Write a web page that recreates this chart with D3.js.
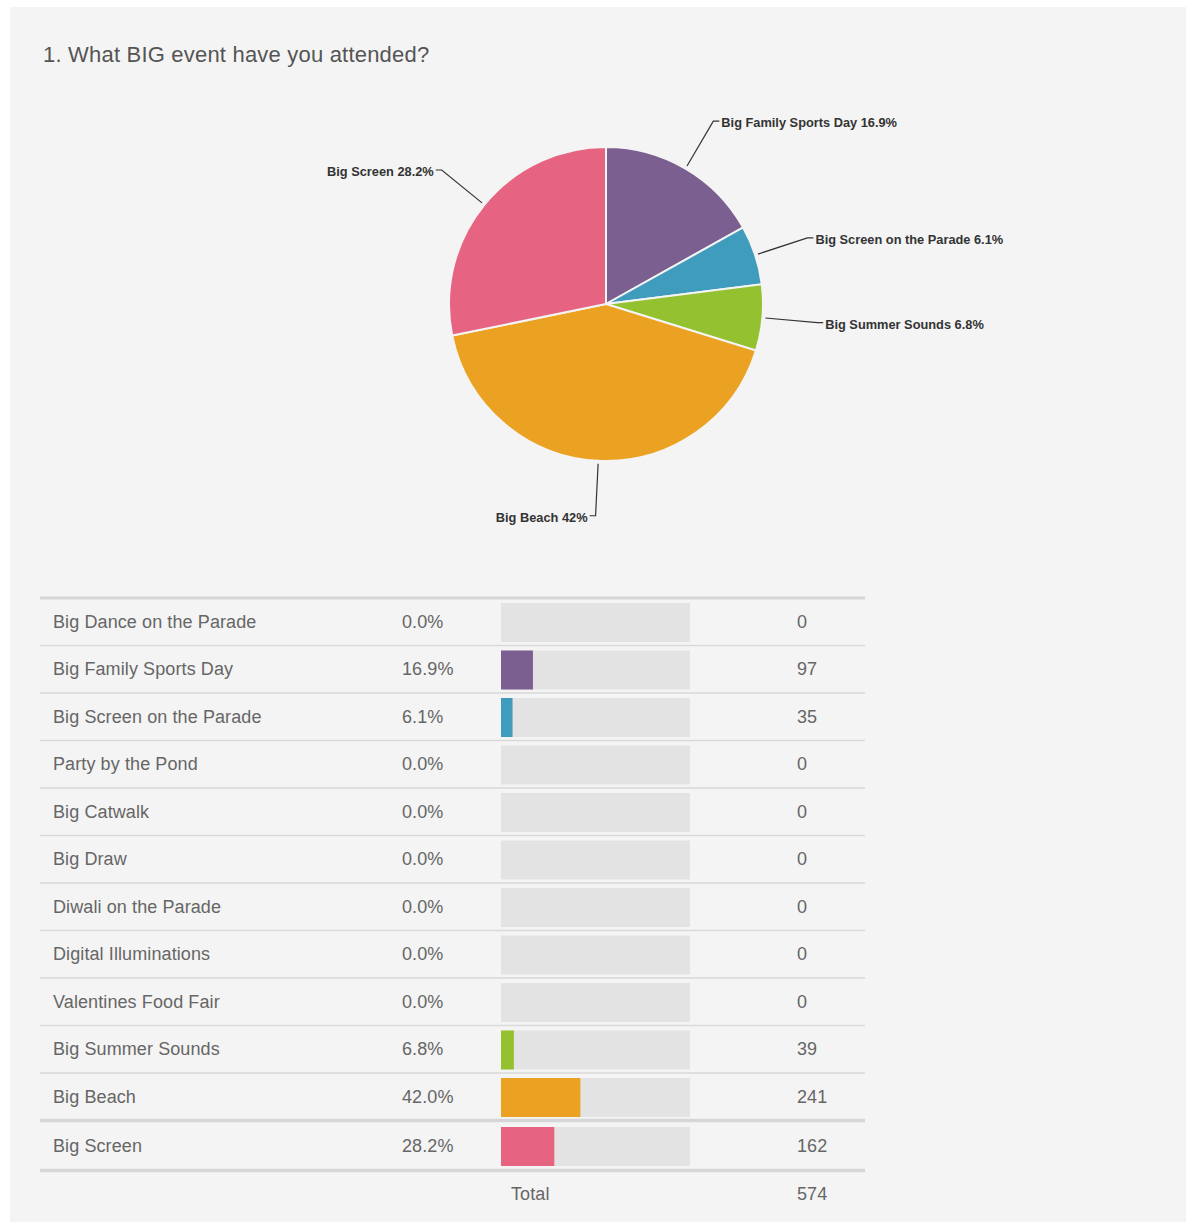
<!DOCTYPE html>
<meta charset="utf-8">
<body style="margin:0;background:#fff">
<style>
  svg { font-family: "Liberation Sans", Arial, sans-serif; }
  .title { font-size: 22px; fill: #555; letter-spacing: 0.2px; }
  .slice-label { font-size: 12.8px; fill: #333; font-weight: bold; }
  .row-text { font-size: 18px; fill: #666; letter-spacing: 0.1px; }
</style>
<svg width="1187" height="1222"></svg>
<script src="https://d3js.org/d3.v7.min.js"></script>
<script>

// answer options, in the order the table lists them
var events = ["Big Dance on the Parade", "Big Family Sports Day", "Big Screen on the Parade",
              "Party by the Pond", "Big Catwalk", "Big Draw", "Diwali on the Parade",
              "Digital Illuminations", "Valentines Food Fair", "Big Summer Sounds",
              "Big Beach", "Big Screen"];
var counts = [0, 97, 35, 0, 0, 0, 0, 0, 0, 39, 241, 162];
var percents = [0.0, 16.9, 6.1, 0.0, 0.0, 0.0, 0.0, 0.0, 0.0, 6.8, 42.0, 28.2];
var pieLabels = ["", "16.9%", "6.1%", "", "", "", "", "", "", "6.8%", "42%", "28.2%"];
var colors = ["#999", "#7b5f91", "#3f9cbc", "#999", "#999", "#999", "#999", "#999", "#999",
              "#94c12f", "#eba222", "#e66482"];
var total = 574;

var svg = d3.select("svg");

svg.append("rect")
   .attr("x", 10).attr("y", 7)
   .attr("width", 1176).attr("height", 1215)
   .attr("fill", "#f4f4f4");

svg.append("text")
   .attr("class", "title")
   .attr("x", 43).attr("y", 62)
   .text("1. What BIG event have you attended?");

// ---- pie ----
var rows = events.map(function(e, i) {
  return {name: e, count: counts[i], pct: percents[i], label: pieLabels[i], color: colors[i]};
});
var cx = 606, cy = 304, r = 157;

var pie = d3.pie().sort(null).value(function(d) { return d.count; });
var arcs = pie(rows.filter(function(d) { return d.count > 0; }));
var arc = d3.arc().innerRadius(0).outerRadius(r);

var pg = svg.append("g").attr("transform", "translate(" + cx + "," + cy + ")");

pg.selectAll("path")
  .data(arcs)
  .enter().append("path")
  .attr("d", arc)
  .attr("fill", function(d) { return d.data.color; })
  .attr("stroke", "#f4f4f4")
  .attr("stroke-width", 2);

function pt(a, rad) { return [Math.sin(a) * rad, -Math.cos(a) * rad]; }

arcs.forEach(function(d) {
  var mid = (d.startAngle + d.endAngle) / 2;
  var p1 = pt(mid, r + 3), p2 = pt(mid, 212);
  var right = Math.sin(mid) > 0;
  var dir = right ? 1 : -1;
  var p3 = [p2[0] + dir * 6, p2[1]];
  pg.append("path")
    .attr("d", d3.line()([p1, p2, p3]))
    .attr("fill", "none")
    .attr("stroke", "#333")
    .attr("stroke-width", 1.2);
  pg.append("text")
    .attr("class", "slice-label")
    .attr("x", p3[0] + dir * 2)
    .attr("y", p3[1] + 6)
    .attr("text-anchor", right ? "start" : "end")
    .text(d.data.name + " " + d.data.label);
});

// ---- table ----
var tx0 = 40, tx1 = 865, tableTop = 598, rowH = 47.5;
var barX = d3.scaleLinear().domain([0, 100]).range([501, 690]);

var tg = svg.append("g");
tg.append("line")
  .attr("x1", tx0).attr("x2", tx1).attr("y1", tableTop).attr("y2", tableTop)
  .attr("stroke", "#d6d6d6").attr("stroke-width", 3);

rows.forEach(function(d, i) {
  var last = i === events.length - 1;
  var y0 = tableTop + i * rowH + (last ? 1.5 : 0);
  var yc = y0 + rowH / 2;
  tg.append("text").attr("class", "row-text")
    .attr("x", 53).attr("y", yc + 6).text(d.name);
  tg.append("text").attr("class", "row-text")
    .attr("x", 402).attr("y", yc + 6).text(d.pct.toFixed(1) + "%");
  tg.append("rect")
    .attr("x", barX(0)).attr("y", y0 + 5)
    .attr("width", barX(100) - barX(0)).attr("height", 39)
    .attr("fill", "#e3e3e3");
  if (d.pct > 0) {
    tg.append("rect")
      .attr("x", barX(0)).attr("y", y0 + 5)
      .attr("width", barX(d.pct) - barX(0)).attr("height", 39)
      .attr("fill", d.color);
  }
  tg.append("text").attr("class", "row-text")
    .attr("x", 797).attr("y", yc + 6).text(d.count);
  var yl = y0 + rowH + (last ? 1 : 0);
  var thick = (i === events.length - 2 || last);
  tg.append("line")
    .attr("x1", tx0).attr("x2", tx1).attr("y1", yl).attr("y2", yl)
    .attr("stroke", thick ? "#d6d6d6" : "#d9d9d9")
    .attr("stroke-width", thick ? 3.5 : 1.5);
});

tg.append("text").attr("class", "row-text")
  .attr("x", 511).attr("y", 1200).text("Total");
tg.append("text").attr("class", "row-text")
  .attr("x", 797).attr("y", 1200).text(total);

</script>
</body>
